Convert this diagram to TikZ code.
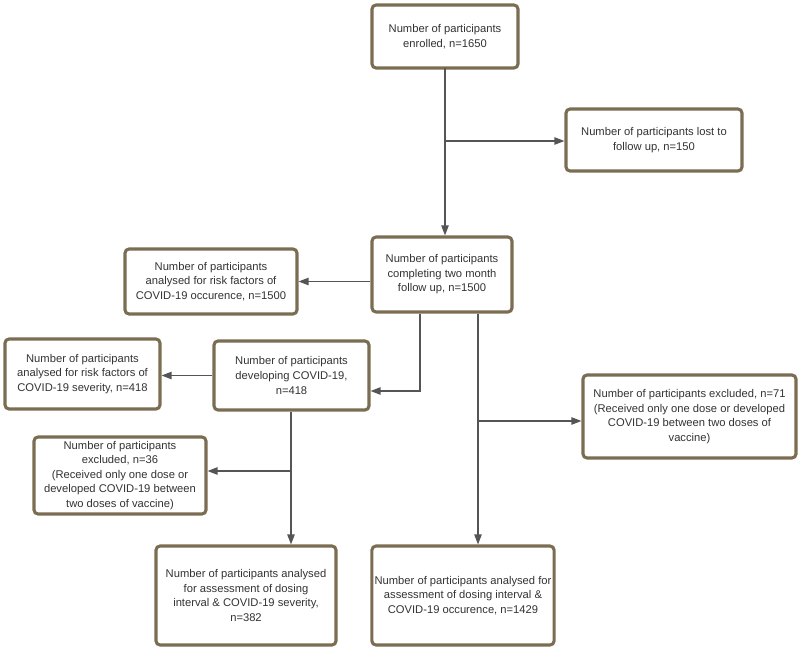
\documentclass[tikz,border=0pt]{standalone}
\usepackage{fontspec}
\setmainfont{Liberation Sans}
\usetikzlibrary{arrows.meta,calc}
\definecolor{boxborder}{HTML}{7B6D52}
\definecolor{linegrey}{HTML}{555555}
\definecolor{txt}{HTML}{333333}
\begin{document}
\begin{tikzpicture}[x=0.75pt,y=-0.75pt,
  box/.style={draw=boxborder, line width=2.3pt, rounded corners=3pt, fill=white,
    align=center, inner sep=2pt, font=\fontsize{8.4}{10.9}\selectfont, text=txt},
  arr/.style={draw=linegrey, line width=0.95pt, -{Triangle[length=7.5pt,width=5.5pt]}},
  ln/.style={draw=linegrey, line width=0.95pt}]
\useasboundingbox (0,0) rectangle (800,650);
\node[box, minimum width=146*0.75pt, minimum height=63*0.75pt] (enrolled) at (445,36.5) {Number of participants\\enrolled, n=1650};
\node[box, minimum width=176*0.75pt, minimum height=62*0.75pt] (lost) at (654,140) {Number of participants lost to\\follow up, n=150};
\node[box, minimum width=140*0.75pt, minimum height=75*0.75pt] (completing) at (442,274.5) {Number of participants\\completing two month\\follow up, n=1500};
\node[box, minimum width=172*0.75pt, minimum height=65*0.75pt] (occrisk) at (211,281.5) {Number of participants\\analysed for risk factors of\\COVID-19 occurence, n=1500};
\node[box, minimum width=155*0.75pt, minimum height=69*0.75pt] (developing) at (291.5,375.5) {Number of participants\\developing COVID-19,\\n=418};
\node[box, minimum width=155*0.75pt, minimum height=70*0.75pt] (sevrisk) at (82.5,374) {Number of participants\\analysed for risk factors of\\COVID-19 severity, n=418};
\node[box, minimum width=172*0.75pt, minimum height=77*0.75pt] (excla) at (120,475.5) {Number of participants\\excluded, n=36\\(Received only one dose or\\developed COVID-19 between\\two doses of vaccine)};
\node[box, minimum width=213*0.75pt, minimum height=83*0.75pt] (exclb) at (689.5,416.5) {Number of participants excluded, n=71\\(Received only one dose or developed\\COVID-19 between two doses of\\vaccine)};
\node[box, minimum width=180*0.75pt, minimum height=99*0.75pt] (sevdose) at (246,595.5) {Number of participants analysed\\for assessment of dosing\\interval \& COVID-19 severity,\\n=382};
\node[box, minimum width=182*0.75pt, minimum height=99*0.75pt] (occdose) at (463,595.5) {Number of participants analysed for\\assessment of dosing interval \&\\COVID-19 occurence, n=1429};
% connectors
\coordinate (b1) at (445,141);
\coordinate (c1) at (445,68);
\draw[arr] (c1) -- (c1 |- completing.north);
\draw[arr] (b1) -- (b1 -| lost.west);
\draw[arr] (occrisk.east -| completing.west) -- (occrisk.east);
\coordinate (c2) at (420,391);
\draw[arr] (completing.south -| c2) -- (c2) -- (c2 -| developing.east);
\coordinate (c3) at (478,421);
\draw[arr] (completing.south -| c3) -- (c3 |- occdose.north);
\draw[arr] (c3) -- (c3 -| exclb.west);
\draw[arr] (developing.west) -- (developing.west -| sevrisk.east);
\coordinate (c4) at (291,471);
\draw[arr] (developing.south -| c4) -- (c4 |- sevdose.north);
\draw[arr] (c4) -- (c4 -| excla.east);
\end{tikzpicture}
\end{document}
